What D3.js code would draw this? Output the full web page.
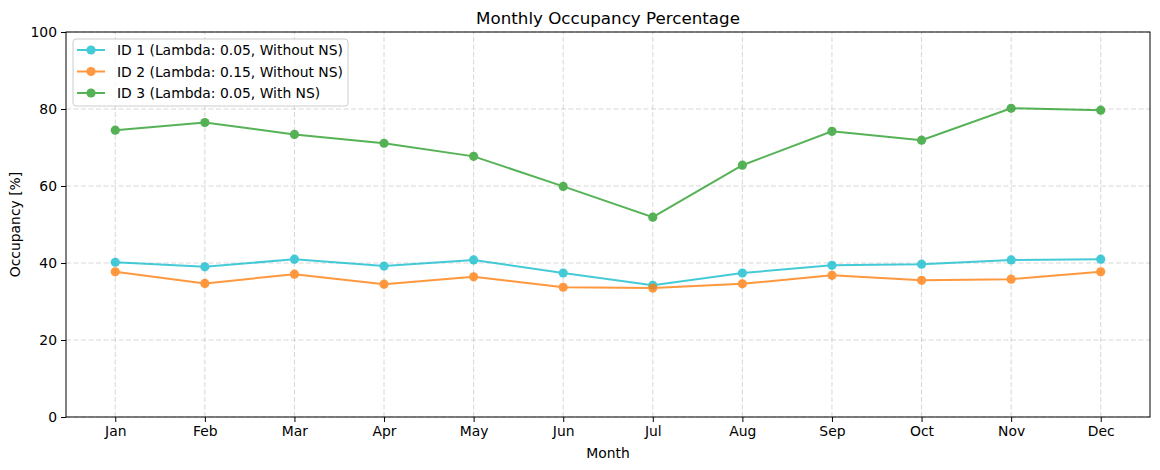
<!DOCTYPE html>
<html>
<head>
<meta charset="utf-8">
<script src="https://cdn.jsdelivr.net/npm/d3@7"></script>
<style>
  body { margin: 0; background: #fff; }
  svg { font-family: "DejaVu Sans", sans-serif; }
</style>
</head>
<body>
<div id="chart"></div>
<script>
// data
var months = ['Jan','Feb','Mar','Apr','May','Jun','Jul','Aug','Sep','Oct','Nov','Dec'];
var id1 = [40.2, 39.0, 41.0, 39.2, 40.8, 37.4, 34.2, 37.4, 39.4, 39.7, 40.8, 41.0];
var id2 = [37.7, 34.7, 37.1, 34.5, 36.4, 33.7, 33.5, 34.6, 36.8, 35.5, 35.8, 37.7];
var id3 = [74.5, 76.5, 73.4, 71.1, 67.7, 59.9, 51.9, 65.4, 74.2, 71.9, 80.2, 79.7];
var seriesNames = ['ID 1 (Lambda: 0.05, Without NS)', 'ID 2 (Lambda: 0.15, Without NS)', 'ID 3 (Lambda: 0.05, With NS)'];
var seriesColors = ['#17becf', '#ff7f0e', '#2ca02c'];
var yTicks = [0, 20, 40, 60, 80, 100];

var W = 1160, H = 470;
var m = {left: 66, right: 10, top: 32, bottom: 53};
var fs = 13.9;

var svg = d3.select('#chart').append('svg')
    .attr('width', W).attr('height', H);

var x = d3.scaleLinear().domain([-0.55, 11.55]).range([m.left, W - m.right]);
var y = d3.scaleLinear().domain([0, 100]).range([H - m.bottom, m.top]);

// grid
var grid = svg.append('g');
grid.selectAll('.gx').data(months).enter().append('line')
    .attr('x1', function(d, i){ return x(i); }).attr('x2', function(d, i){ return x(i); })
    .attr('y1', y(0)).attr('y2', y(100))
    .attr('stroke', '#b0b0b0').attr('stroke-opacity', 0.5).attr('stroke-dasharray', '5,2.5');
grid.selectAll('.gy').data(yTicks).enter().append('line')
    .attr('x1', x(-0.55)).attr('x2', x(11.55))
    .attr('y1', function(d){ return y(d); }).attr('y2', function(d){ return y(d); })
    .attr('stroke', '#b0b0b0').attr('stroke-opacity', 0.5).attr('stroke-dasharray', '5,2.5');

// axes
var xAxis = d3.axisBottom(x).tickValues(d3.range(12))
    .tickFormat(function(i){ return months[i]; }).tickSize(5).tickPadding(4);
var yAxis = d3.axisLeft(y).tickValues(yTicks).tickSize(5).tickPadding(4);

var gx = svg.append('g').attr('transform', 'translate(0,' + y(0) + ')').call(xAxis);
var gy = svg.append('g').attr('transform', 'translate(' + x(-0.55) + ',0)').call(yAxis);
[gx, gy].forEach(function(g){
    g.select('.domain').remove();
    g.selectAll('text').attr('font-size', fs).attr('fill', '#000').attr('font-family', 'DejaVu Sans');
    g.selectAll('line').attr('stroke', '#000');
});

// frame
svg.append('rect')
    .attr('x', x(-0.55)).attr('y', y(100))
    .attr('width', x(11.55) - x(-0.55)).attr('height', y(0) - y(100))
    .attr('fill', 'none').attr('stroke', '#000').attr('stroke-width', 1);

// lines
var data = [id1, id2, id3];
var line = d3.line().x(function(d, i){ return x(i); }).y(function(d){ return y(d); });

data.forEach(function(vals, k){
    var g = svg.append('g').attr('opacity', 0.8);
    g.append('path').datum(vals)
        .attr('d', line).attr('fill', 'none')
        .attr('stroke', seriesColors[k]).attr('stroke-width', 2);
    g.selectAll('circle').data(vals).enter().append('circle')
        .attr('cx', function(d, i){ return x(i); })
        .attr('cy', function(d){ return y(d); })
        .attr('r', 4.6).attr('fill', seriesColors[k]);
});

// title and labels
svg.append('text').attr('x', (x(-0.55) + x(11.55)) / 2).attr('y', 24)
    .attr('text-anchor', 'middle').attr('font-size', 16.7).text('Monthly Occupancy Percentage');
svg.append('text').attr('x', (x(-0.55) + x(11.55)) / 2).attr('y', 458)
    .attr('text-anchor', 'middle').attr('font-size', fs).text('Month');
svg.append('text').attr('transform', 'translate(20,' + (y(50)) + ') rotate(-90)')
    .attr('text-anchor', 'middle').attr('font-size', fs).text('Occupancy [%]');

// legend
var lg = svg.append('g').attr('transform', 'translate(73,39)');
lg.append('rect').attr('width', 275).attr('height', 67).attr('rx', 3)
    .attr('fill', '#fff').attr('fill-opacity', 0.8).attr('stroke', '#cccccc');
seriesNames.forEach(function(name, k){
    var row = lg.append('g').attr('transform', 'translate(0,' + (11 + k * 21.5) + ')');
    var mk = row.append('g').attr('opacity', 0.8);
    mk.append('line').attr('x1', 4).attr('x2', 32).attr('stroke', seriesColors[k]).attr('stroke-width', 2);
    mk.append('circle').attr('cx', 18).attr('r', 4.6).attr('fill', seriesColors[k]);
    row.append('text').attr('x', 44).attr('y', 5).attr('font-size', fs).text(name);
});
</script>
</body>
</html>
